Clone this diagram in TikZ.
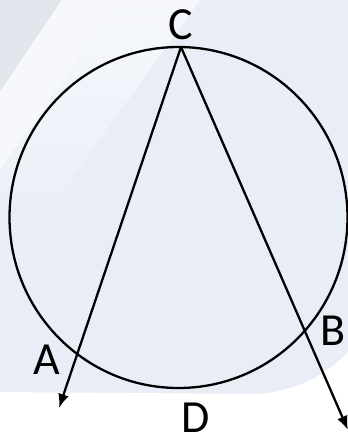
\documentclass[tikz,border=0pt]{standalone}
\usepackage{fontspec}
\setmainfont{Carlito}
\usetikzlibrary{arrows.meta,shapes.geometric}
\definecolor{bgblue}{RGB}{232,237,246}
\definecolor{bggray}{RGB}{226,229,236}
\definecolor{bgwhite}{RGB}{246,248,252}
\tikzset{
  ray/.style={line width=2.3pt, -{Latex[length=14pt,width=11pt]}},
  rim/.style={line width=2.3pt},
  lbl/.style={font=\fontsize{46}{50}\selectfont, inner sep=0pt, text=black}
}
\begin{document}
\begin{tikzpicture}[x=1pt,y=-1pt]
\useasboundingbox (0,0) rectangle (348,440);
% background
\fill[bgblue] (0,0) rectangle (348,440);
\fill[bggray] (0,0) -- (62,0) -- (0,92) -- cycle;
\shade[left color=bgwhite, right color=bgblue, shading angle=0] (62,0) -- (200,0) -- (20,250) -- (0,250) -- (0,92) -- cycle;
\fill[bgwhite] (62,0) -- (120,0) -- (0,170) -- (0,92) -- cycle;
\fill[white] (0,392) -- (260,394) .. controls (300,390) and (330,372) .. (348,352) -- (348,440) -- (0,440) -- cycle;
% circle
\node[rim, draw, ellipse, minimum width=338pt, minimum height=341pt, inner sep=0pt] (circ) at (178.5,217.5) {};
% points
\coordinate (c) at (181,47);
\coordinate (ta) at (59,408);
\coordinate (tb) at (348,430);
\draw[ray] (c) -- (ta);
\draw[ray] (c) -- (tb);
% labels
\node[lbl] (lC) at (181,25) {C};
\node[lbl] (lA) at (47,360) {A};
\node[lbl] (lB) at (333,331) {B};
\node[lbl] (lD) at (196,418) {D};
\end{tikzpicture}
\end{document}
